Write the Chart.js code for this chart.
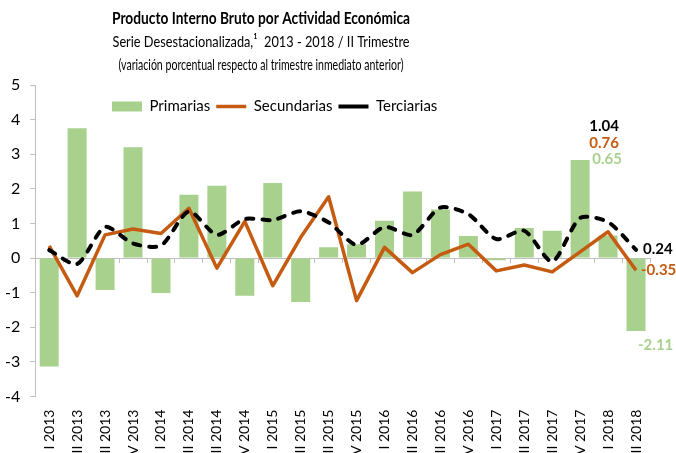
<!DOCTYPE html>
<html>
<head>
<meta charset="utf-8">
<script src="https://cdn.jsdelivr.net/npm/chart.js@4"></script>
<style>
  html, body { margin: 0; padding: 0; overflow: hidden; background: #fff; }
</style>
</head>
<body>
<canvas id="grafica" width="676" height="472"></canvas>
<script>
// Trimestres (eje X)
const trimestres = [
  'I 2013', 'II 2013', 'III 2013', 'IV 2013',
  'I 2014', 'II 2014', 'III 2014', 'IV 2014',
  'I 2015', 'II 2015', 'III 2015', 'IV 2015',
  'I 2016', 'II 2016', 'III 2016', 'IV 2016',
  'I 2017', 'II 2017', 'III 2017', 'IV 2017',
  'I 2018', 'II 2018'
];

// Variación porcentual por actividad
const primarias = [-3.13, 3.75, -0.92, 3.20, -1.01, 1.83, 2.09, -1.09, 2.17, -1.27, 0.31,
  0.40, 1.08, 1.92, 1.40, 0.64, -0.06, 0.87, 0.79, 2.83, 0.65, -2.11];
const secundarias = [0.35, -1.09, 0.67, 0.84, 0.71, 1.44, -0.29, 1.06, -0.80, 0.60, 1.77,
  -1.23, 0.31, -0.42, 0.10, 0.40, -0.37, -0.20, -0.40, 0.18, 0.76, -0.35];
const terciarias = [0.23, -0.17, 0.90, 0.42, 0.36, 1.35, 0.67, 1.13, 1.10, 1.35, 1.03,
  0.38, 0.90, 0.67, 1.46, 1.27, 0.55, 0.79, -0.10, 1.16, 1.04, 0.24];

// Escala Y
const yMin = -4;
const yMax = 5;
const yPaso = 1;

const titulos = [
  'Producto Interno Bruto por Actividad Económica',
  'Serie Desestacionalizada,\u00b9  2013 - 2018 / II Trimestre',
  '(variación porcentual respecto al trimestre inmediato anterior)'
];

const verde = '#a9d18e';
const naranja = '#c55a11';
const gris = '#bfbfbf';
const fuente = 'Lato, "Open Sans", sans-serif';

// Encabezado de tres líneas
const encabezado = {
  id: 'encabezado',
  afterDraw(chart) {
    const ctx = chart.ctx;
    ctx.save();
    ctx.fillStyle = '#000';
    ctx.textAlign = 'center';
    ctx.textBaseline = 'middle';
    ctx.font = 'bold 17px ' + fuente;
    ctx.fillText(titulos[0], 261, 19, 298);
    ctx.font = '16px ' + fuente;
    ctx.fillText(titulos[1], 261, 42, 297);
    ctx.font = '15px ' + fuente;
    ctx.fillText(titulos[2], 261, 65, 285);
    ctx.restore();
  }
};

// La leyenda va dentro del área de trazado
const moverLeyenda = {
  id: 'moverLeyenda',
  afterLayout(chart) {
    const leyenda = chart.legend;
    const pad = leyenda.options.labels.padding;
    const alto = leyenda.height;
    leyenda.left = 112 - pad;
    leyenda.top = 99 - pad;
    leyenda.bottom = leyenda.top + alto;
  }
};

// Etiquetas de los dos últimos trimestres
const etiquetas = {
  id: 'etiquetas',
  afterDatasetsDraw(chart) {
    const { ctx, scales: { x, y } } = chart;
    const a = 20, b = 21;
    ctx.save();
    ctx.font = 'bold 15px ' + fuente;
    ctx.textBaseline = 'middle';

    // I 2018: apiladas sobre la barra
    const xa = x.getPixelForValue(a) - 4;
    const ya = y.getPixelForValue(primarias[a]);
    ctx.textAlign = 'center';
    ctx.fillStyle = '#000';
    ctx.fillText(terciarias[a].toFixed(2), xa, ya - 109);
    ctx.fillStyle = naranja;
    ctx.fillText(secundarias[a].toFixed(2), xa, ya - 92);
    ctx.fillStyle = verde;
    ctx.fillText(primarias[a].toFixed(2), xa + 3, ya - 76);

    // II 2018: a la derecha de cada serie
    const xb = x.getPixelForValue(b);
    ctx.textAlign = 'left';
    ctx.fillStyle = '#000';
    ctx.fillText(terciarias[b].toFixed(2), xb + 7, y.getPixelForValue(terciarias[b]) - 1);
    ctx.fillStyle = naranja;
    ctx.fillText(secundarias[b].toFixed(2), xb + 5, y.getPixelForValue(secundarias[b]));
    ctx.fillStyle = verde;
    ctx.fillText(primarias[b].toFixed(2), xb + 2, y.getPixelForValue(primarias[b]) + 14);
    ctx.restore();
  }
};

new Chart(document.getElementById('grafica'), {
  data: {
    labels: trimestres,
    datasets: [
      {
        type: 'bar',
        label: 'Primarias',
        data: primarias,
        backgroundColor: verde,
        borderWidth: 0,
        barPercentage: 0.68,
        categoryPercentage: 1,
        order: 3
      },
      {
        type: 'line',
        label: 'Secundarias',
        data: secundarias,
        borderColor: naranja,
        backgroundColor: naranja,
        borderWidth: 3.5,
        borderJoinStyle: 'round',
        pointRadius: 0,
        tension: 0,
        order: 2
      },
      {
        type: 'line',
        label: 'Terciarias',
        data: terciarias,
        borderColor: '#000',
        backgroundColor: '#000',
        borderWidth: 4,
        borderDash: [7, 9],
        borderCapStyle: 'round',
        pointRadius: 0,
        tension: 0.25,
        order: 1
      }
    ]
  },
  options: {
    responsive: false,
    animation: false,
    events: [],
    layout: { padding: { top: 54, left: -5, right: 26, bottom: 0 } },
    scales: {
      x: {
        grid: { display: false, drawTicks: false },
        border: { display: false },
        ticks: {
          color: '#000',
          font: { family: fuente, size: 14 },
          minRotation: 90,
          maxRotation: 90,
          autoSkip: false,
          padding: 13
        }
      },
      x2: {
        type: 'category',
        axis: 'x',
        position: { y: 0 },
        offset: true,
        grid: { offset: true, drawOnChartArea: false, drawTicks: true, tickLength: 4, color: gris },
        border: { display: true, color: gris },
        ticks: { display: false }
      },
      y: {
        min: yMin,
        max: yMax,
        ticks: {
          stepSize: yPaso,
          color: '#000',
          font: { family: fuente, size: 16 },
          padding: 10
        },
        grid: { drawOnChartArea: false, drawTicks: true, tickLength: 5, color: gris },
        border: { color: gris }
      }
    },
    plugins: {
      tooltip: { enabled: false },
      legend: {
        position: 'top',
        align: 'start',
        labels: {
          usePointStyle: true,
          pointStyleWidth: 30,
          boxHeight: 10,
          padding: 6,
          color: '#000',
          font: { family: fuente, size: 15 },
          generateLabels(chart) {
            const items = Chart.defaults.plugins.legend.labels.generateLabels(chart);
            items.sort((p, q) => p.datasetIndex - q.datasetIndex);
            items.forEach(it => { it.pointStyle = it.datasetIndex === 0 ? 'rect' : 'line'; });
            return items;
          }
        }
      }
    }
  },
  plugins: [encabezado, moverLeyenda, etiquetas]
});
</script>
</body>
</html>
